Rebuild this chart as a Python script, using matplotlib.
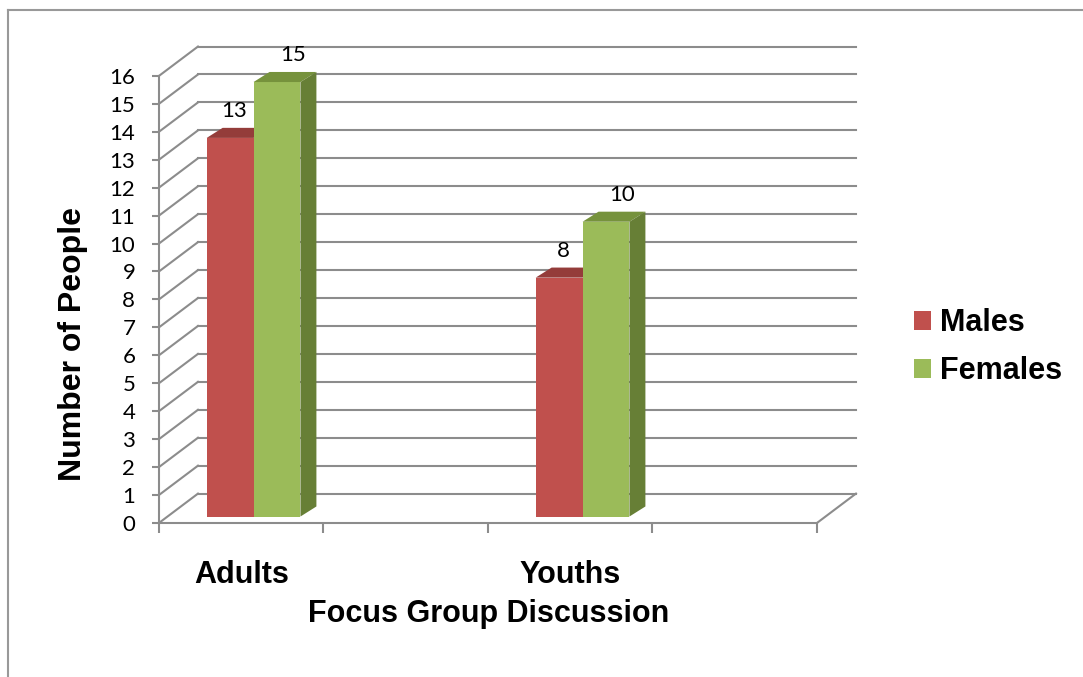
import matplotlib
matplotlib.use('Agg')
import matplotlib.pyplot as plt
from matplotlib.patches import Polygon, Patch
from matplotlib.lines import Line2D

categories = ['Adults', 'Youths']
males = [13, 8]
females = [15, 10]
series_names = ['Males', 'Females']
yticks = list(range(0, 17))

red, red_top = '#C0504D', '#943C3A'
green, green_top, green_side = '#9BBB59', '#76923C', '#677F36'
grid_c = '#8C8C8C'

# fake 3d: depth of the walls and of the columns, in data units
DX, DY = 0.237, 1.05
BDX, BDY = 0.097, 0.36
base = 0.23      # columns stand a quarter of the way into the floor
lift = 0.55      # excel perspective makes columns look a touch taller
w = 0.285
nslots = 4

fig = plt.figure(figsize=(10.83, 6.77), dpi=100)
ax = fig.add_axes([0.1468, 0.1904, 0.6987, 0.7553])
ax.set_xlim(0, 4.6)
ax.set_ylim(-0.9, 17.4)

# walls: side wall diagonals + back wall grid
for v in yticks:
    ax.plot([0, DX], [v, v + DY], color=grid_c, lw=1.5, zorder=1, clip_on=False)
    ax.plot([DX, nslots + DX], [v + DY, v + DY], color=grid_c, lw=1.5, zorder=1, clip_on=False)
ax.plot([nslots, nslots + DX], [0, DY], color=grid_c, lw=1.5, zorder=1, clip_on=False)

def column(x0, val, front, top, side=None, ldx=0.0):
    t = val + base + lift
    ax.add_patch(Polygon([(x0, base), (x0 + w, base), (x0 + w, t), (x0, t)],
                         closed=True, fc=front, ec='none', zorder=3))
    ax.add_patch(Polygon([(x0, t), (x0 + w, t), (x0 + w + BDX, t + BDY), (x0 + BDX, t + BDY)],
                         closed=True, fc=top, ec='none', zorder=3))
    if side:
        ax.add_patch(Polygon([(x0 + w, base), (x0 + w + BDX, base + BDY),
                              (x0 + w + BDX, t + BDY), (x0 + w, t)],
                             closed=True, fc=side, ec='none', zorder=3))
    ax.text(x0 + w / 2 + ldx, t + BDY + 0.6, str(val), ha='center', va='center',
            fontsize=16, family='Lato', zorder=4)

for i, cat in enumerate(categories):
    slot = 2 * i
    column(slot + 0.29, males[i], red, red_top, ldx=0.025)
    column(slot + 0.29 + w, females[i], green, green_top, green_side, ldx=0.095)

for s in ['top', 'right']:
    ax.spines[s].set_visible(False)
ax.spines['left'].set_bounds(0, 16)
ax.spines['left'].set_color(grid_c)
ax.spines['left'].set_linewidth(1.5)
ax.spines['bottom'].set_position(('data', 0))
ax.spines['bottom'].set_bounds(0, nslots)
ax.spines['bottom'].set_color(grid_c)
ax.spines['bottom'].set_linewidth(1.5)

ax.set_yticks(yticks)
ax.tick_params(axis='y', length=5, width=1.5, color=grid_c, pad=12, labelsize=16)
for lab in ax.get_yticklabels():
    lab.set_family('Lato')

ax.set_xticks(range(nslots + 1))
ax.set_xticklabels([])
ax.set_xticks([2 * i + 0.5 for i in range(len(categories))], minor=True)
ax.set_xticklabels(categories, minor=True, fontsize=22, fontweight='bold',
                   family='Liberation Sans')
ax.tick_params(axis='x', which='major', length=7, width=1.5, color=grid_c)
ax.tick_params(axis='x', which='minor', length=0, pad=27)

ax.set_xlabel('Focus Group Discussion', fontsize=22, fontweight='bold',
              family='Liberation Sans', va='center')
ax.xaxis.set_label_coords(0.435, -0.128)
ax.set_ylabel('Number of People', fontsize=23, fontweight='bold',
              family='Liberation Sans', va='center')
ax.yaxis.set_label_coords(-0.113, 0.399)

handles = [Patch(fc=red, ec='none'), Patch(fc=green, ec='none')]
fig.legend(handles, series_names, loc='center left', bbox_to_anchor=(0.844, 0.487),
           frameon=False, borderpad=0, borderaxespad=0, handlelength=0.55,
           handleheight=0.55, handletextpad=0.3, labelspacing=0.6,
           prop={'family': 'Liberation Sans', 'weight': 'bold', 'size': 22})

# chart frame, only the left and top edges are inside the picture
fig.add_artist(Line2D([8 / 1083, 8 / 1083], [0, 1 - 10 / 677], color='#999999', lw=1.5))
fig.add_artist(Line2D([8 / 1083, 1], [1 - 10 / 677, 1 - 10 / 677], color='#999999', lw=1.5))

plt.savefig('out.png', dpi=100)
